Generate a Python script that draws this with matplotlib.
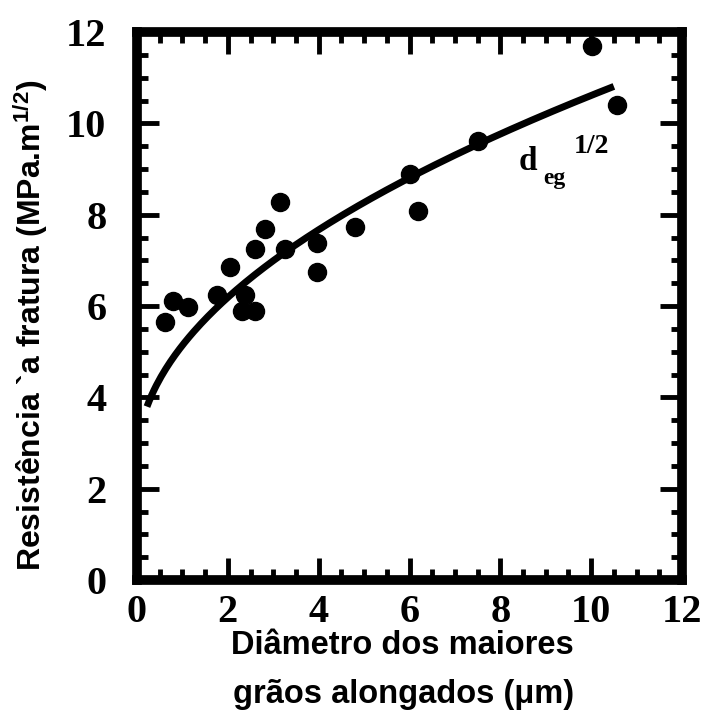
import numpy as np
import matplotlib
matplotlib.use("Agg")
import matplotlib.pyplot as plt
from matplotlib.ticker import MultipleLocator

plt.rcParams["mathtext.fontset"] = "custom"
plt.rcParams["mathtext.rm"] = "Liberation Sans:bold"
plt.rcParams["mathtext.it"] = "Liberation Sans:bold"
plt.rcParams["mathtext.bf"] = "Liberation Sans:bold"

# Measured grain size (um) vs fracture toughness (MPa.m^1/2)
grain_diameter = [0.62, 0.79, 1.12, 1.76, 2.05, 2.38, 2.31, 2.60, 2.60, 2.82,
                  3.15, 3.26, 3.96, 3.96, 4.80, 6.01, 6.19, 7.51, 10.02, 10.57]
toughness = [5.65, 6.10, 5.98, 6.25, 6.85, 6.25, 5.90, 5.90, 7.25, 7.68,
             8.28, 7.25, 7.38, 6.75, 7.72, 8.90, 8.08, 9.62, 11.70, 10.40]

# Square-root law K = a + b * d^(1/2)
fit_a = 2.61
fit_b = 2.53
fit_range = (0.22, 10.5)

x_ticks = [0, 2, 4, 6, 8, 10, 12]
y_ticks = [0, 2, 4, 6, 8, 10, 12]

fig = plt.figure(figsize=(7.19, 7.26), dpi=100)
ax = fig.add_axes([137 / 719, 1 - 580 / 726, (682 - 137) / 719, (580 - 32) / 726])

d = np.linspace(fit_range[0], fit_range[1], 200)
ax.plot(d, fit_a + fit_b * np.sqrt(d), color="black", lw=5, solid_capstyle="butt")
ax.plot(grain_diameter, toughness, "o", color="black", ms=13, mec="black",
        clip_on=False, zorder=3)

ax.set_xlim(0, 12)
ax.set_ylim(0, 12)
ax.set_xticks(x_ticks)
ax.set_yticks(y_ticks)
ax.xaxis.set_minor_locator(MultipleLocator(0.5))
ax.yaxis.set_minor_locator(MultipleLocator(0.5))
ax.tick_params(which="both", direction="in", top=True, right=True,
               width=3.5, color="black")
ax.tick_params(which="major", length=16)
ax.tick_params(which="minor", length=8)
ax.tick_params(axis="x", which="major", pad=10)
ax.tick_params(axis="y", which="major", pad=22)
for lab in ax.get_xticklabels() + ax.get_yticklabels():
    lab.set_fontfamily("Liberation Serif")
    lab.set_fontweight("bold")
    lab.set_fontsize(29)
for sp in ax.spines.values():
    sp.set_linewidth(7)

serif_bold = dict(family="Liberation Serif", weight="bold", color="black")
ax.text(8.61, 9.17, "d", fontsize=24, ha="center", va="center", **serif_bold)
ax.text(9.2, 8.8, "eg", fontsize=17, ha="center", va="center", **serif_bold)
ax.text(10.0, 9.5, "1/2", fontsize=20, ha="center", va="center", **serif_bold)

sans_bold = dict(family="Liberation Sans", weight="bold", color="black")
fig.text(402 / 719, 1 - 645 / 726, "Diâmetro dos maiores",
         fontsize=23.5, ha="center", va="center", **sans_bold)
fig.text(404 / 719, 1 - 694 / 726, "grãos alongados (μm)",
         fontsize=23.5, ha="center", va="center", **sans_bold)
fig.text(31 / 719, 1 - 325 / 726, r"Resistência `a fratura (MPa.m$^{1/2}$)",
         fontsize=23, rotation=90, ha="center", va="center", **sans_bold)

fig.savefig("out.png", dpi=100)
